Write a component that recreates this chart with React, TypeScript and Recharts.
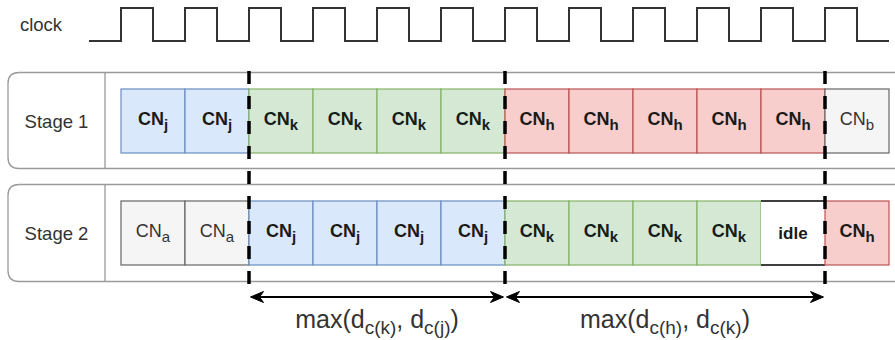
import React from 'react';
import { ComposedChart, Line, XAxis, YAxis, ReferenceArea, ReferenceLine } from 'recharts';

// ---------------- DATA ----------------
const clockTimes = [-0.5, 0, 0.5, 1, 1.5, 2, 2.5, 3, 3.5, 4, 4.5, 5, 5.5, 6, 6.5, 7, 7.5, 8, 8.5, 9, 9.5, 10, 10.5, 11, 11.5, 12];
const clockLevels = [0, 1, 0, 1, 0, 1, 0, 1, 0, 1, 0, 1, 0, 1, 0, 1, 0, 1, 0, 1, 0, 1, 0, 1, 0, 0];

const stageNames = ['Stage 1', 'Stage 2'];
const stage1Cells = ['j', 'j', 'k', 'k', 'k', 'k', 'h', 'h', 'h', 'h', 'h', 'b'];
const stage2Cells = ['a', 'a', 'j', 'j', 'j', 'j', 'k', 'k', 'k', 'k', 'idle', 'h'];
const boundaryCycles = [2, 6, 11];
const arrowStarts = [2, 6];
const arrowEnds = [6, 11];
const arrowSubsA = ['c(k)', 'c(h)'];
const arrowSubsB = ['c(j)', 'c(k)'];

// ---------------- LAYOUT / STYLE ----------------
const W = 895;
const H = 340;
const FONT = '"Liberation Sans", Arial, Helvetica, sans-serif';
const X_DOMAIN: [number, number] = [-121 / 64, (W - 121) / 64];
const CLK_DOMAIN: [number, number] = [-(H - 41) / 33, 41 / 33];
const BOX_LEFT = -113 / 64; // cycle units
const BOX_DIV = -16 / 64;
const BOX_RIGHT = 13;
const rows = [
  { boxTop: 72.5, boxBottom: 168.5, cellTop: 89, cellBottom: 153 },
  { boxTop: 184.5, boxBottom: 281.5, cellTop: 201, cellBottom: 265 },
];
const DASH_TOP = 71;
const DASH_BOTTOM = 284;
const ARROW_Y = 297;

const styles: Record<string, { fill: string; stroke: string; text: string; bold: boolean }> = {
  j: { fill: '#dae8fc', stroke: '#6c8ebf', text: '#1a1a1a', bold: true },
  k: { fill: '#d5e8d4', stroke: '#82b366', text: '#1a1a1a', bold: true },
  h: { fill: '#f8cecc', stroke: '#b85450', text: '#1a1a1a', bold: true },
  a: { fill: '#f5f5f5', stroke: '#666666', text: '#333333', bold: false },
  b: { fill: '#f5f5f5', stroke: '#666666', text: '#333333', bold: false },
  idle: { fill: '#ffffff', stroke: '#000000', text: '#1a1a1a', bold: true },
};

const clockData = clockTimes.map((t, i) => ({ t, level: clockLevels[i] }));

const makeCellShape = (kind: string) => (p: any) => {
  const s = styles[kind];
  const { x, y, width, height } = p;
  const cx = x + width / 2;
  const cy = y + height / 2;
  if (kind === 'idle') {
    return (
      <g>
        <rect x={x} y={y} width={width} height={height} fill={s.fill} />
        <line x1={x} y1={y} x2={x + width} y2={y} stroke="#000" strokeWidth={1.3} />
        <line x1={x} y1={y + height} x2={x + width} y2={y + height} stroke="#000" strokeWidth={1.3} />
        <text x={cx} y={cy + 6} textAnchor="middle" fontFamily={FONT} fontSize={17} fontWeight="bold" fill={s.text}>
          idle
        </text>
      </g>
    );
  }
  return (
    <g>
      <rect x={x} y={y} width={width} height={height} fill={s.fill} stroke={s.stroke} strokeWidth={1.2} />
      <text x={cx} y={cy + 4} textAnchor="middle" fontFamily={FONT} fontSize={18} fontWeight={s.bold ? 'bold' : 'normal'} fill={s.text}>
        CN
        <tspan fontSize={15} dy={5}>{kind}</tspan>
      </text>
    </g>
  );
};

const makeBoxShape = (name: string, divPx: (p: any) => number) => (p: any) => {
  const { x, y, width, height } = p;
  const r = 11;
  const right = x + width;
  const d = `M ${right} ${y} L ${x + r} ${y} Q ${x} ${y} ${x} ${y + r} L ${x} ${y + height - r} Q ${x} ${y + height} ${x + r} ${y + height} L ${right} ${y + height}`;
  const dx = divPx(p);
  return (
    <g>
      <path d={d} fill="#ffffff" stroke="#9a9a9a" strokeWidth={1.3} />
      <line x1={dx} y1={y} x2={dx} y2={y + height} stroke="#9a9a9a" strokeWidth={1.3} />
      <text x={(x + dx) / 2} y={y + height / 2 + 7} textAnchor="middle" fontFamily={FONT} fontSize={18.5} fill="#333333">
        {name}
      </text>
    </g>
  );
};

const makeArrowShape = (subA: string, subB: string) => (p: any) => {
  const { x1, y1, x2 } = p;
  const a = x1 + 1.5;
  const b = x2 - 1.5;
  const y = y1;
  const L = 13;
  const hw = 5.5;
  const n = 4;
  const cx = (x1 + x2) / 2;
  return (
    <g>
      <line x1={a + n} y1={y} x2={b - n} y2={y} stroke="#000" strokeWidth={1.8} />
      <path d={`M ${a} ${y} L ${a + L} ${y - hw} L ${a + L - n} ${y} L ${a + L} ${y + hw} Z`} fill="#000" stroke="#000" strokeWidth={1} />
      <path d={`M ${b} ${y} L ${b - L} ${y - hw} L ${b - L + n} ${y} L ${b - L} ${y + hw} Z`} fill="#000" stroke="#000" strokeWidth={1} />
      <text x={cx} y={y + 31} textAnchor="middle" fontFamily={FONT} fontSize={25} fill="#333333">
        max(d
        <tspan fontSize={19} dy={6}>{subA}</tspan>
        <tspan dy={-6}>, d</tspan>
        <tspan fontSize={19} dy={6}>{subB}</tspan>
        <tspan dy={-6}>)</tspan>
      </text>
    </g>
  );
};

const clockLabelShape = (p: any) => {
  const { x, y, width, height } = p;
  return (
    <text x={x + width / 2} y={y + height / 2 + 6} textAnchor="middle" fontFamily={FONT} fontSize={18.5} fill="#333333">
      clock
    </text>
  );
};

export default function App() {
  const stageCells = [stage1Cells, stage2Cells];
  return (
    <div style={{ position: 'absolute', left: 0, top: 0, width: W, height: H, background: '#fff' }}>
      <ComposedChart width={W} height={H} data={clockData} margin={{ top: 0, right: 0, bottom: 0, left: 0 }}>
        <XAxis type="number" dataKey="t" domain={X_DOMAIN} allowDataOverflow hide />
        <YAxis yAxisId="px" type="number" domain={[0, H]} reversed allowDataOverflow hide />
        <YAxis yAxisId="clk" type="number" domain={CLK_DOMAIN} allowDataOverflow hide />

        <ReferenceArea yAxisId="px" x1={-1.6} x2={-0.9} y1={10} y2={40} ifOverflow="visible" shape={clockLabelShape} />

        {stageNames.map((name, i) => (
          <ReferenceArea
            key={'box' + i}
            yAxisId="px"
            x1={BOX_LEFT}
            x2={BOX_RIGHT}
            y1={rows[i].boxTop}
            y2={rows[i].boxBottom}
            ifOverflow="visible"
            shape={makeBoxShape(name, (p: any) => p.x + ((BOX_DIV - BOX_LEFT) / (BOX_RIGHT - BOX_LEFT)) * p.width)}
          />
        ))}

        {stageCells.map((cells, r) =>
          cells.map((kind, c) => (
            <ReferenceArea
              key={`c${r}-${c}`}
              yAxisId="px"
              x1={c}
              x2={c + 1}
              y1={rows[r].cellTop}
              y2={rows[r].cellBottom}
              ifOverflow="visible"
              shape={makeCellShape(kind)}
            />
          ))
        )}

        {boundaryCycles.map((b) => (
          <ReferenceLine
            key={'d' + b}
            yAxisId="px"
            segment={[{ x: b, y: DASH_TOP }, { x: b, y: DASH_BOTTOM }]}
            stroke="#000"
            strokeWidth={3.5}
            strokeDasharray="13 12"
            ifOverflow="visible"
          />
        ))}

        {arrowStarts.map((s, i) => (
          <ReferenceLine
            key={'a' + i}
            yAxisId="px"
            segment={[{ x: s, y: ARROW_Y }, { x: arrowEnds[i], y: ARROW_Y }]}
            ifOverflow="visible"
            shape={makeArrowShape(arrowSubsA[i], arrowSubsB[i])}
          />
        ))}

        <Line
          yAxisId="clk"
          type="stepAfter"
          dataKey="level"
          stroke="#333333"
          strokeWidth={2}
          dot={false}
          activeDot={false}
          isAnimationActive={false}
        />
      </ComposedChart>
    </div>
  );
}
